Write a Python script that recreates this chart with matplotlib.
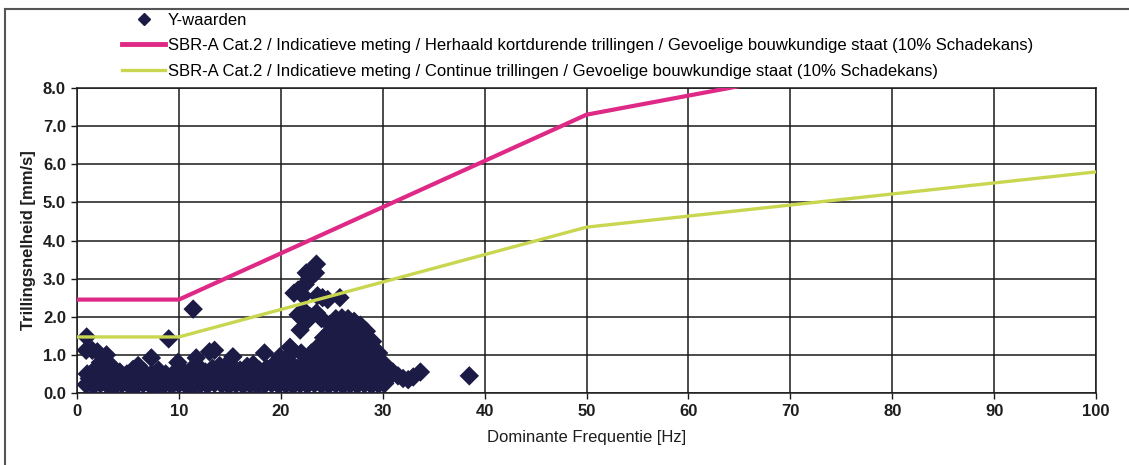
import matplotlib
matplotlib.use("Agg")
import matplotlib.pyplot as plt
from matplotlib.lines import Line2D

# ---------------- data ----------------
# limit lines (SBR-A Cat.2)
line_short_f = [0, 10, 50, 100]
line_short_v = [2.45, 2.45, 7.3, 9.8]
line_cont_f = [0, 10, 50, 100]
line_cont_v = [1.47, 1.47, 4.35, 5.8]

# measured points: base band
band_f = [0.9, 1.6, 2.3, 3.0, 3.7, 4.4, 5.1, 5.8, 6.5, 7.2, 7.9, 8.6, 9.3, 10.0, 10.7,
          11.4, 12.1, 12.8, 13.5, 14.2, 14.9, 15.6, 16.3, 17.0, 17.7, 18.4, 19.1, 19.8,
          20.5, 21.2, 21.9, 22.6, 23.3, 24.0, 24.7, 25.4, 26.1, 26.8, 27.5, 28.2, 28.9,
          29.6, 30.2,
          1.2, 1.9, 2.6, 3.3, 4.0, 4.7, 5.4, 6.1, 6.8, 7.5, 8.2, 8.9, 9.6, 10.3, 11.0,
          11.7, 12.4, 13.1, 13.8, 14.5, 15.2, 15.9, 16.6, 17.3, 18.0, 18.7, 19.4, 20.1,
          20.8, 21.5, 22.2, 22.9, 23.6, 24.3, 25.0, 25.7, 26.4, 27.1, 27.8, 28.5, 29.2,
          29.9, 30.4,
          1.0, 1.5, 2.0, 2.8, 3.5, 4.2, 4.9, 5.5, 6.0, 6.6, 7.3, 8.0, 8.7, 9.5, 10.5,
          11.2, 11.9, 12.6, 13.3, 14.0, 14.6, 15.3, 16.0, 16.7, 17.3, 17.9, 18.6, 19.2,
          19.8, 20.4, 21.0, 21.6, 22.2, 22.8, 23.4,
          1.4, 2.7, 4.5, 6.3, 8.4, 10.2, 12.2, 14.4, 16.2, 18.2, 20.2, 22.4]
band_v = [0.22, 0.18, 0.24, 0.20, 0.17, 0.23, 0.20, 0.18, 0.24, 0.20, 0.17, 0.22, 0.19, 0.23, 0.20,
          0.17, 0.22, 0.20, 0.25, 0.22, 0.19, 0.23, 0.20, 0.22, 0.18, 0.21, 0.24, 0.20,
          0.22, 0.19, 0.23, 0.20, 0.24, 0.21, 0.20, 0.23, 0.19, 0.22, 0.20, 0.23, 0.20,
          0.22, 0.25,
          0.38, 0.42, 0.35, 0.40, 0.36, 0.44, 0.38, 0.41, 0.35, 0.40, 0.37, 0.43, 0.36, 0.40, 0.45,
          0.38, 0.42, 0.36, 0.44, 0.40, 0.37, 0.45, 0.40, 0.38, 0.43, 0.39, 0.42, 0.45,
          0.40, 0.43, 0.38, 0.45, 0.40, 0.42, 0.38, 0.44, 0.40, 0.43, 0.39, 0.42, 0.40,
          0.38, 0.35,
          0.50, 0.55, 0.50, 0.60, 0.68, 0.55, 0.50, 0.62, 0.72, 0.55, 0.50, 0.60, 0.50, 0.52, 0.55,
          0.62, 0.70, 0.55, 0.65, 0.72, 0.58, 0.50, 0.60, 0.70, 0.75, 0.60, 0.65, 0.72,
          0.60, 0.70, 0.78, 0.65, 0.72, 0.80, 0.70,
          0.30, 0.30, 0.30, 0.30, 0.30, 0.30, 0.30, 0.30, 0.30, 0.30, 0.30, 0.30]

# measured points: main cluster 23-30 Hz
cluster_f = [23.0, 23.0, 23.0,
             23.6, 23.6, 23.6, 23.6,
             24.2, 24.2, 24.2, 24.2, 24.2,
             24.8, 24.8, 24.8, 24.8, 24.8, 24.8, 24.8,
             25.4, 25.4, 25.4, 25.4, 25.4, 25.4, 25.4, 25.4,
             26.0, 26.0, 26.0, 26.0, 26.0, 26.0, 26.0, 26.0,
             26.6, 26.6, 26.6, 26.6, 26.6, 26.6, 26.6, 26.6,
             27.2, 27.2, 27.2, 27.2, 27.2, 27.2, 27.2,
             27.8, 27.8, 27.8, 27.8, 27.8, 27.8, 27.8,
             28.4, 28.4, 28.4, 28.4, 28.4, 28.4,
             29.0, 29.0, 29.0, 29.0, 29.0,
             29.6, 29.6, 29.6,
             30.2, 30.2]
cluster_v = [0.60, 0.85, 1.05,
             0.60, 0.80, 1.00, 1.20,
             0.60, 0.80, 1.00, 1.20, 1.45,
             0.60, 0.80, 1.00, 1.20, 1.40, 1.60, 1.80,
             0.60, 0.80, 1.00, 1.20, 1.40, 1.60, 1.80, 1.95,
             0.60, 0.80, 1.00, 1.20, 1.40, 1.60, 1.80, 1.97,
             0.60, 0.80, 1.00, 1.20, 1.40, 1.60, 1.80, 1.95,
             0.60, 0.80, 1.00, 1.20, 1.40, 1.60, 1.88,
             0.60, 0.80, 1.00, 1.20, 1.40, 1.60, 1.78,
             0.60, 0.80, 1.00, 1.20, 1.40, 1.62,
             0.60, 0.80, 1.00, 1.20, 1.35,
             0.60, 0.80, 1.05,
             0.55, 0.75]

# measured points: isolated / upper points and tail
upper_f = [0.95, 0.9, 1.5, 2.0, 2.9, 2.3, 7.3, 9.0, 9.9, 11.4, 11.7, 13.0, 13.5,
           15.3, 14.9, 18.4, 19.9, 20.9, 21.2, 21.9, 22.0,
           21.7, 22.3, 22.9, 23.5, 24.0, 22.6,
           21.3, 21.7, 22.2, 22.4, 22.8, 23.6, 24.1, 24.6, 25.8,
           22.5, 23.0, 23.5, 23.4,
           30.6, 31.0, 31.5, 32.0, 32.5, 33.0, 33.7, 38.5]
upper_v = [1.47, 1.12, 1.12, 1.08, 1.00, 0.80, 0.92, 1.42, 0.80, 2.20, 0.92, 1.08, 1.12,
           0.95, 0.80, 1.05, 0.95, 1.20, 1.10, 1.65, 1.05,
           2.05, 2.15, 2.00, 2.10, 1.95, 1.90,
           2.62, 2.70, 2.55, 2.85, 3.00, 2.55, 2.50, 2.45, 2.50,
           3.15, 3.20, 3.38, 3.15,
           0.50, 0.55, 0.45, 0.38, 0.35, 0.42, 0.55, 0.45]

x_ticks = [0, 10, 20, 30, 40, 50, 60, 70, 80, 90, 100]
y_ticks = [0.0, 1.0, 2.0, 3.0, 4.0, 5.0, 6.0, 7.0, 8.0]

label_points = "Y-waarden"
label_short = ("SBR-A Cat.2 / Indicatieve meting / Herhaald kortdurende trillingen / "
               "Gevoelige bouwkundige staat (10% Schadekans)")
label_cont = ("SBR-A Cat.2 / Indicatieve meting / Continue trillingen / "
              "Gevoelige bouwkundige staat (10% Schadekans)")

# ---------------- styling ----------------
plt.rcParams['font.family'] = ['Liberation Sans', 'DejaVu Sans']
navy = '#1c1b45'
magenta = '#de2a86'
lime = '#c9d650'
txt = '#1e1e1e'

W, H = 1129, 465
fig = plt.figure(figsize=(W / 100, H / 100), dpi=100)
ax = fig.add_axes([77 / W, 1 - 393 / H, (1096 - 77) / W, (393 - 88) / H])

all_f = band_f + cluster_f + upper_f
all_v = band_v + cluster_v + upper_v
ax.scatter(all_f, all_v, marker='D', s=98, color=navy, edgecolors='none', zorder=3)
ax.plot(line_short_f, line_short_v, color=magenta, lw=3.0, zorder=4, solid_capstyle='butt')
ax.plot(line_cont_f, line_cont_v, color=lime, lw=2.4, zorder=4, solid_capstyle='butt')

ax.set_xlim(0, 100)
ax.set_ylim(0, 8)
ax.set_xticks(x_ticks)
ax.set_yticks(y_ticks)
ax.set_yticklabels([f"{v:.1f}" for v in y_ticks])
ax.grid(True, color='#1a1a1a', lw=1.1, zorder=0)
ax.set_axisbelow(True)
for sp in ax.spines.values():
    sp.set_color('#1a1a1a')
    sp.set_linewidth(1.1)
ax.tick_params(direction='out', length=4, width=1.0, color='#1a1a1a',
               labelsize=12, pad=4)
for lab in ax.get_xticklabels() + ax.get_yticklabels():
    lab.set_fontweight('bold')
    lab.set_color(txt)

ax.set_xlabel("Dominante Frequentie [Hz]", fontsize=12, color=txt, labelpad=8)
ax.set_ylabel("Trillingsnelheid [mm/s]", fontsize=12, color=txt, labelpad=5,
              fontweight='bold')

# outer chart frame
fig.add_artist(Line2D([5 / W, 5 / W], [0, 1 - 9 / H], transform=fig.transFigure,
                      color='#555555', lw=1.5))
fig.add_artist(Line2D([5 / W, 1.0], [1 - 9 / H, 1 - 9 / H], transform=fig.transFigure,
                      color='#555555', lw=1.5))

handles = [
    Line2D([], [], marker='D', color=navy, linestyle='none', markersize=6.5),
    Line2D([], [], color=magenta, lw=3.5),
    Line2D([], [], color=lime, lw=2.4),
]
fig.legend(handles, [label_points, label_short, label_cont], loc='upper left',
           bbox_to_anchor=(122 / W, 1 - 13 / H), frameon=False, fontsize=12,
           handlelength=2.6, handletextpad=0.15, labelspacing=0.62, borderaxespad=0,
           borderpad=0)

fig.savefig("out.png", dpi=100)
